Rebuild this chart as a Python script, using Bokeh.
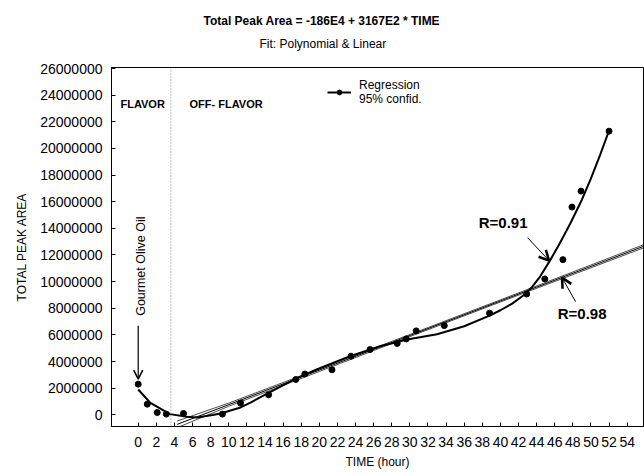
from bokeh.plotting import figure
from bokeh.models import (Range1d, FixedTicker, Title, Label, Arrow, OpenHead,
                          Span, Legend, LegendItem)
from bokeh.embed import file_html
from bokeh.resources import INLINE

FONT = "Liberation Sans"

# measured samples
time_hr = [0, 1, 2.1, 3.1, 5.0, 9.3, 11.3, 14.4, 17.4, 18.4, 21.4, 23.5, 25.6,
           28.6, 29.6, 30.7, 33.8, 38.8, 42.9, 44.9, 46.9, 47.9, 48.9, 52.0]
peak_area = [2300000, 800000, 170000, 50000, 100000, 50000, 880000, 1500000,
             2650000, 3060000, 3380000, 4400000, 4900000, 5360000, 5700000,
             6300000, 6700000, 7630000, 9070000, 10200000, 11650000, 15600000,
             16800000, 21300000]

# polynomial fit curve
poly_fit_time = [0, 1.3, 3.5, 5.4, 6.5, 8.2, 9.1, 11.3, 12.4, 14.4, 17.3, 19.7,
                 23.4, 26.7, 29.7, 33.0, 36.0, 38.8, 40.0, 41.3, 42.6, 43.5,
                 44.4, 45.4, 46.5, 47.7, 49.0, 50.0, 51.0, 52.0]
poly_fit_area = [1900000, 920000, 50000, -150000, -200000, -20000, 100000,
                 550000, 920000, 1650000, 2680000, 3400000, 4400000, 5150000,
                 5650000, 6050000, 6650000, 7450000, 7850000, 8350000,
                 9000000, 9600000, 10400000, 11500000, 12800000, 14350000,
                 16150000, 17750000, 19500000, 21350000]

# linear regression line and its 95% confidence band
linear_fit_time = [4.3, 55.8]
linear_fit_area = [-720000, 12650000]
conf_time = [4.3, 10, 20, 30, 40, 55.8]
conf_upper = [-470000, 880000, 3450000, 6030000, 8630000, 12770000]
conf_lower = [-970000, 640000, 3250000, 5870000, 8470000, 12530000]

x_ticks = list(range(0, 55, 2))
x_tick_labels = [str(t) for t in x_ticks]
y_ticks = list(range(0, 26000001, 2000000))
y_tick_labels = [str(v) for v in y_ticks]

flavor_boundary_hr = 3.6

p = figure(width=644, height=475, output_backend="svg", toolbar_location=None,
           x_range=Range1d(-2.95, 55.8), y_range=Range1d(-880000, 26080000),
           min_border_left=111, min_border_right=1, min_border_top=67,
           min_border_bottom=49, title=None)
p.xgrid.visible = False
p.ygrid.visible = False
p.outline_line_color = "black"
p.outline_line_width = 1
p.background_fill_color = "white"
p.border_fill_color = "white"

# titles, stacked outward from the frame: spacer, subtitle, main title
spacer = Title(text=" ", text_font=FONT, text_font_size="3px", standoff=12)
sub = Title(text="Fit: Polynomial & Linear", align="left", offset=148,
            text_font=FONT, text_font_size="12px", text_font_style="normal",
            text_color="black", standoff=0)
main = Title(text="Total Peak Area = -186E4 + 3167E2 * TIME", align="left",
             offset=92, text_font=FONT, text_font_size="12px",
             text_font_style="bold", text_color="black", standoff=14)
p.add_layout(spacer, "above")
p.add_layout(sub, "above")
p.add_layout(main, "above")

# axes
p.xaxis.ticker = FixedTicker(ticks=x_ticks)
p.xaxis.major_label_overrides = dict(zip(x_ticks, x_tick_labels))
p.yaxis.ticker = FixedTicker(ticks=y_ticks)
p.yaxis.major_label_overrides = dict(zip(y_ticks, y_tick_labels))
for ax in (p.xaxis[0], p.yaxis[0]):
    ax.major_tick_in = 4
    ax.major_tick_out = 0
    ax.minor_tick_in = 0
    ax.minor_tick_out = 0
    ax.axis_line_color = "black"
    ax.major_tick_line_color = "black"
    ax.major_label_text_font = FONT
    ax.major_label_text_font_size = "14px"
    ax.major_label_text_color = "black"
    ax.axis_label_text_font = FONT
    ax.axis_label_text_font_size = "12px"
    ax.axis_label_text_font_style = "normal"
    ax.axis_label_text_color = "black"
p.xaxis.axis_label = "TIME (hour)"
p.yaxis.axis_label = "TOTAL PEAK AREA"
p.xaxis.major_label_standoff = 10
p.yaxis.major_label_standoff = 9
p.xaxis.axis_label_standoff = 5
p.yaxis.axis_label_standoff = 8

# flavor boundary
p.add_layout(Span(location=flavor_boundary_hr, dimension="height",
                  line_color="#888888", line_dash="1 2", line_width=1))

# confidence band and regression lines
p.line(conf_time, conf_upper, line_color="black", line_width=0.7)
p.line(conf_time, conf_lower, line_color="black", line_width=0.7)
p.line(linear_fit_time, linear_fit_area, line_color="black", line_width=1)
curve_r = p.line(poly_fit_time, poly_fit_area, line_color="black", line_width=2)
pts_r = p.scatter(time_hr, peak_area, size=6, fill_color="black",
                  line_color="black")

legend = Legend(items=[LegendItem(label="Regression\n95% confid.",
                                  renderers=[curve_r, pts_r])],
                location=(216, 320), border_line_color=None,
                background_fill_alpha=0, padding=0, margin=0,
                glyph_width=24, glyph_height=12, label_standoff=8,
                label_text_font=FONT, label_text_font_size="12px",
                label_text_color="black", label_text_line_height=1.0,
                spacing=0)
p.add_layout(legend)

# text annotations
def lab(x, y, text, size, bold=False, angle=0.0, align="left"):
    p.add_layout(Label(x=x, y=y, text=text, text_font=FONT,
                       text_font_size=size,
                       text_font_style="bold" if bold else "normal",
                       text_color="black", text_baseline="middle",
                       text_align=align, angle=angle))

lab(-1.96, 23330000, "FLAVOR", "11px", bold=True)
lab(5.67, 23330000, "OFF- FLAVOR", "11px", bold=True)
lab(0.3, 11160000, "Gourmet Olive Oil", "12.5px", angle=1.5708, align="center")
lab(37.6, 14460000, "R=0.91", "15px", bold=True)
lab(46.33, 7600000, "R=0.98", "15px", bold=True)

p.add_layout(Arrow(x_start=0, y_start=6690000, x_end=0, y_end=2680000,
                   line_width=1.2, end=OpenHead(size=9, line_width=1.5)))
p.add_layout(Arrow(x_start=43.0, y_start=13300000, x_end=45.37, y_end=11580000,
                   line_width=1, end=OpenHead(size=10, line_width=2.5)))
p.add_layout(Arrow(x_start=48.3, y_start=8500000, x_end=46.8, y_end=10300000,
                   line_width=1, end=OpenHead(size=10, line_width=2.5)))

open("out.html", "w").write(file_html(p, INLINE))
